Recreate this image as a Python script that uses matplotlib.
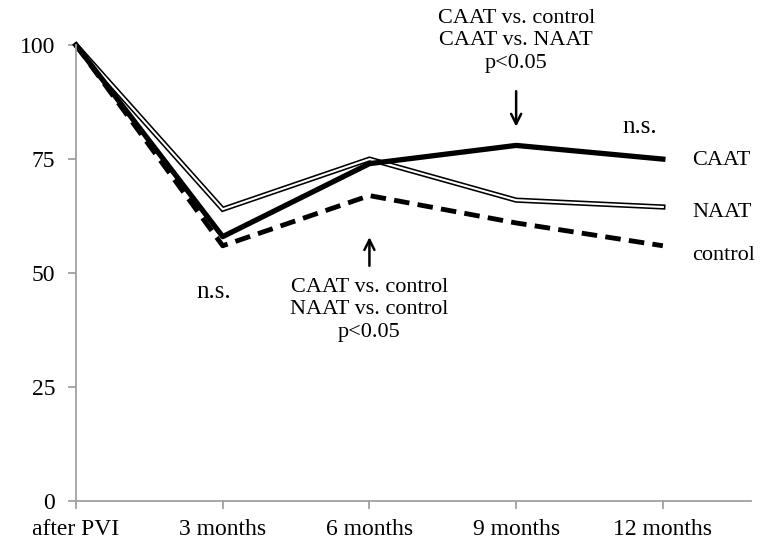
import matplotlib
matplotlib.use("Agg")
import matplotlib.pyplot as plt

categories = ["after PVI", "3 months", "6 months", "9 months", "12 months"]
caat = [100, 58, 74, 78, 75]
naat = [100, 64, 75, 66, 64.5]
control = [100, 56, 67, 61, 56]
yticks = [0, 25, 50, 75, 100]

plt.rcParams['font.family'] = ['Liberation Serif', 'DejaVu Serif']

fig = plt.figure(figsize=(7.6, 5.43), dpi=100)
ax = fig.add_axes([0.1, 0.077, 0.888, 0.84])
x = list(range(len(categories)))

ax.plot(x, control, color='black', lw=3.5, dashes=(3.2, 1.7), clip_on=False, solid_capstyle='butt')
ax.plot(x, naat, color='black', lw=3.8, clip_on=False, solid_joinstyle='miter')
ax.plot(x, naat, color='white', lw=1.5, clip_on=False, solid_joinstyle='miter')
ax.plot(x, caat, color='black', lw=3.8, clip_on=False)

ax.set_xlim(0, 4.6)
ax.set_ylim(0, 100)
ax.set_xticks(x)
ax.set_xticklabels(categories, fontsize=17)
ax.set_yticks(yticks)
ax.set_yticklabels([str(v) for v in yticks], fontsize=17)
for s in ['top', 'right']:
    ax.spines[s].set_visible(False)
for s in ['left', 'bottom']:
    ax.spines[s].set_color('#a0a0a0')
    ax.spines[s].set_linewidth(1.3)
ax.tick_params(axis='both', colors='#a0a0a0', length=6, width=1.3, labelcolor='black', direction='out')
ax.tick_params(axis='y', pad=9)
ax.tick_params(axis='x', pad=7)

fs = 16
ax.text(3, 100.9, "CAAT vs. control\nCAAT vs. NAAT\np<0.05", ha='center', va='center',
        fontsize=fs, linespacing=1.25)
ax.annotate("", xy=(3, 81.5), xytext=(3, 90.5),
            arrowprops=dict(arrowstyle='->', color='black', lw=1.8, mutation_scale=18))
ax.annotate("", xy=(2, 58.5), xytext=(2, 51),
            arrowprops=dict(arrowstyle='->', color='black', lw=1.8, mutation_scale=18))
ax.text(2, 42.0, "CAAT vs. control\nNAAT vs. control\np<0.05", ha='center', va='center',
        fontsize=fs, linespacing=1.25)
ax.text(0.94, 45.8, "n.s.", ha='center', va='center', fontsize=18)
ax.text(3.84, 82, "n.s.", ha='center', va='center', fontsize=18)
ax.text(4.2, 74.8, "CAAT", ha='left', va='center', fontsize=16)
ax.text(4.2, 63.4, "NAAT", ha='left', va='center', fontsize=16)
ax.text(4.2, 53.8, "control", ha='left', va='center', fontsize=16)

fig.savefig("out.png", dpi=100)
